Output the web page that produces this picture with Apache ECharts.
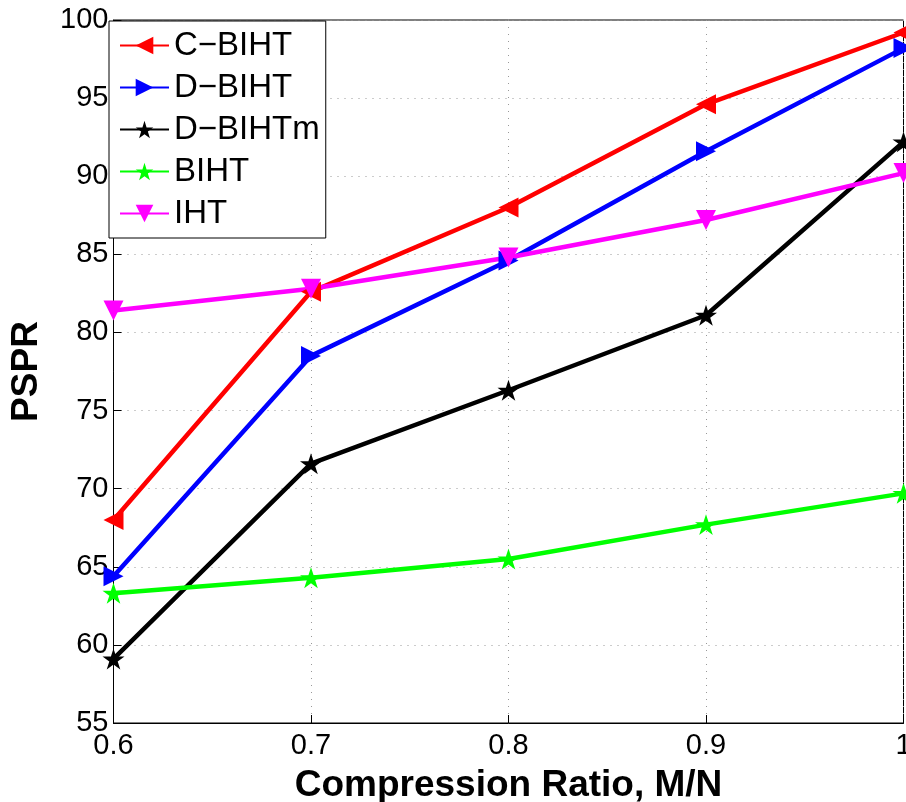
<!DOCTYPE html>
<html>
<head>
<meta charset="utf-8">
<script src="https://cdn.jsdelivr.net/npm/echarts@6/dist/echarts.min.js"></script>
<style>html,body{margin:0;padding:0;background:#fff;}#c{width:906px;height:802px;}</style>
</head>
<body>
<div id="c"></div>
<script>
var ratios = [0.6, 0.7, 0.8, 0.9, 1.0];
var cBIHT = [68.0, 82.6, 88.0, 94.6, 99.2];
var dBIHT = [64.4, 78.5, 84.6, 91.6, 98.2];
var dBIHTm = [59.1, 71.6, 76.3, 81.1, 92.2];
var bIHT = [63.3, 64.3, 65.5, 67.7, 69.7];
var iHT = [81.4, 82.8, 84.8, 87.2, 90.2];
var seriesNames = ['C\u2212BIHT', 'D\u2212BIHT', 'D\u2212BIHTm', 'BIHT', 'IHT'];

var star = 'path://M100,0 L122.45,69.1 L195.1,69.1 L136.3,111.8 L158.8,180.9 L100,138.2 L41.2,180.9 L63.7,111.8 L4.9,69.1 L77.55,69.1 Z';

function pts(vals){ return ratios.map(function(r,i){ return [r, vals[i]]; }); }

function mk(name, vals, color, symbol, rot, size, width){
  return {
    name: name, type: 'line', data: pts(vals),
    symbol: symbol, symbolRotate: rot, symbolSize: size, symbolKeepAspect: true,
    lineStyle: {color: color, width: width},
    itemStyle: {color: color},
    emphasis: {disabled: true},
    animation: false, z: 3
  };
}

var font = 'Liberation Sans, Arial, sans-serif';
var chart = echarts.init(document.getElementById('c'));
chart.setOption({
  backgroundColor: '#fff',
  animation: false,
  grid: {left: 113.5, right: 2.5, top: 20, bottom: 79, show: true, borderColor: '#000', borderWidth: 1,
    backgroundColor: 'transparent', containLabel: false, outerBoundsMode: 'none'},
  legend: {
    left: 109, top: 21, orient: 'vertical',
    padding: [8, 6, 8, 10], itemGap: 9, itemWidth: 49, itemHeight: 22,
    borderColor: '#000', borderWidth: 1, backgroundColor: '#fff',
    textStyle: {fontFamily: font, fontSize: 33, color: '#000'},
    data: seriesNames
  },
  xAxis: {
    type: 'value', min: 0.6, max: 1.0, interval: 0.1,
    name: 'Compression Ratio, M/N', nameLocation: 'middle', nameGap: 44,
    nameTextStyle: {fontFamily: font, fontSize: 37, fontWeight: 'bold', color: '#000'},
    axisLine: {show: true, lineStyle: {color: '#000', width: 1}},
    axisTick: {show: true, inside: true, length: 8, lineStyle: {color: '#000'}},
    axisLabel: {fontFamily: font, fontSize: 29, color: '#000', margin: 8,
      formatter: function(v){ return v === 1 ? '1' : v.toFixed(1); }},
    splitLine: {show: true, lineStyle: {color: '#999', type: [1, 6], width: 1}}
  },
  yAxis: {
    type: 'value', min: 55, max: 100, interval: 5,
    name: 'PSPR', nameLocation: 'middle', nameGap: 68,
    nameTextStyle: {fontFamily: font, fontSize: 37, fontWeight: 'bold', color: '#000'},
    axisLine: {show: true, lineStyle: {color: '#000', width: 1}},
    axisTick: {show: true, inside: true, length: 8, lineStyle: {color: '#000'}},
    axisLabel: {fontFamily: font, fontSize: 29, color: '#000', margin: 5},
    splitLine: {show: true, lineStyle: {color: '#999', type: [1, 6], width: 1}}
  },
  series: [
    mk(seriesNames[0], cBIHT, '#ff0000', 'triangle', 90, 20, 4.5),
    mk(seriesNames[1], dBIHT, '#0000ff', 'triangle', -90, 20, 4.5),
    mk(seriesNames[2], dBIHTm, '#000000', star, 0, 22, 4.5),
    mk(seriesNames[3], bIHT, '#00ff00', star, 0, 22, 4.5),
    mk(seriesNames[4], iHT, '#ff00ff', 'triangle', 180, 20, 4.5)
  ]
});
</script>
</body>
</html>
